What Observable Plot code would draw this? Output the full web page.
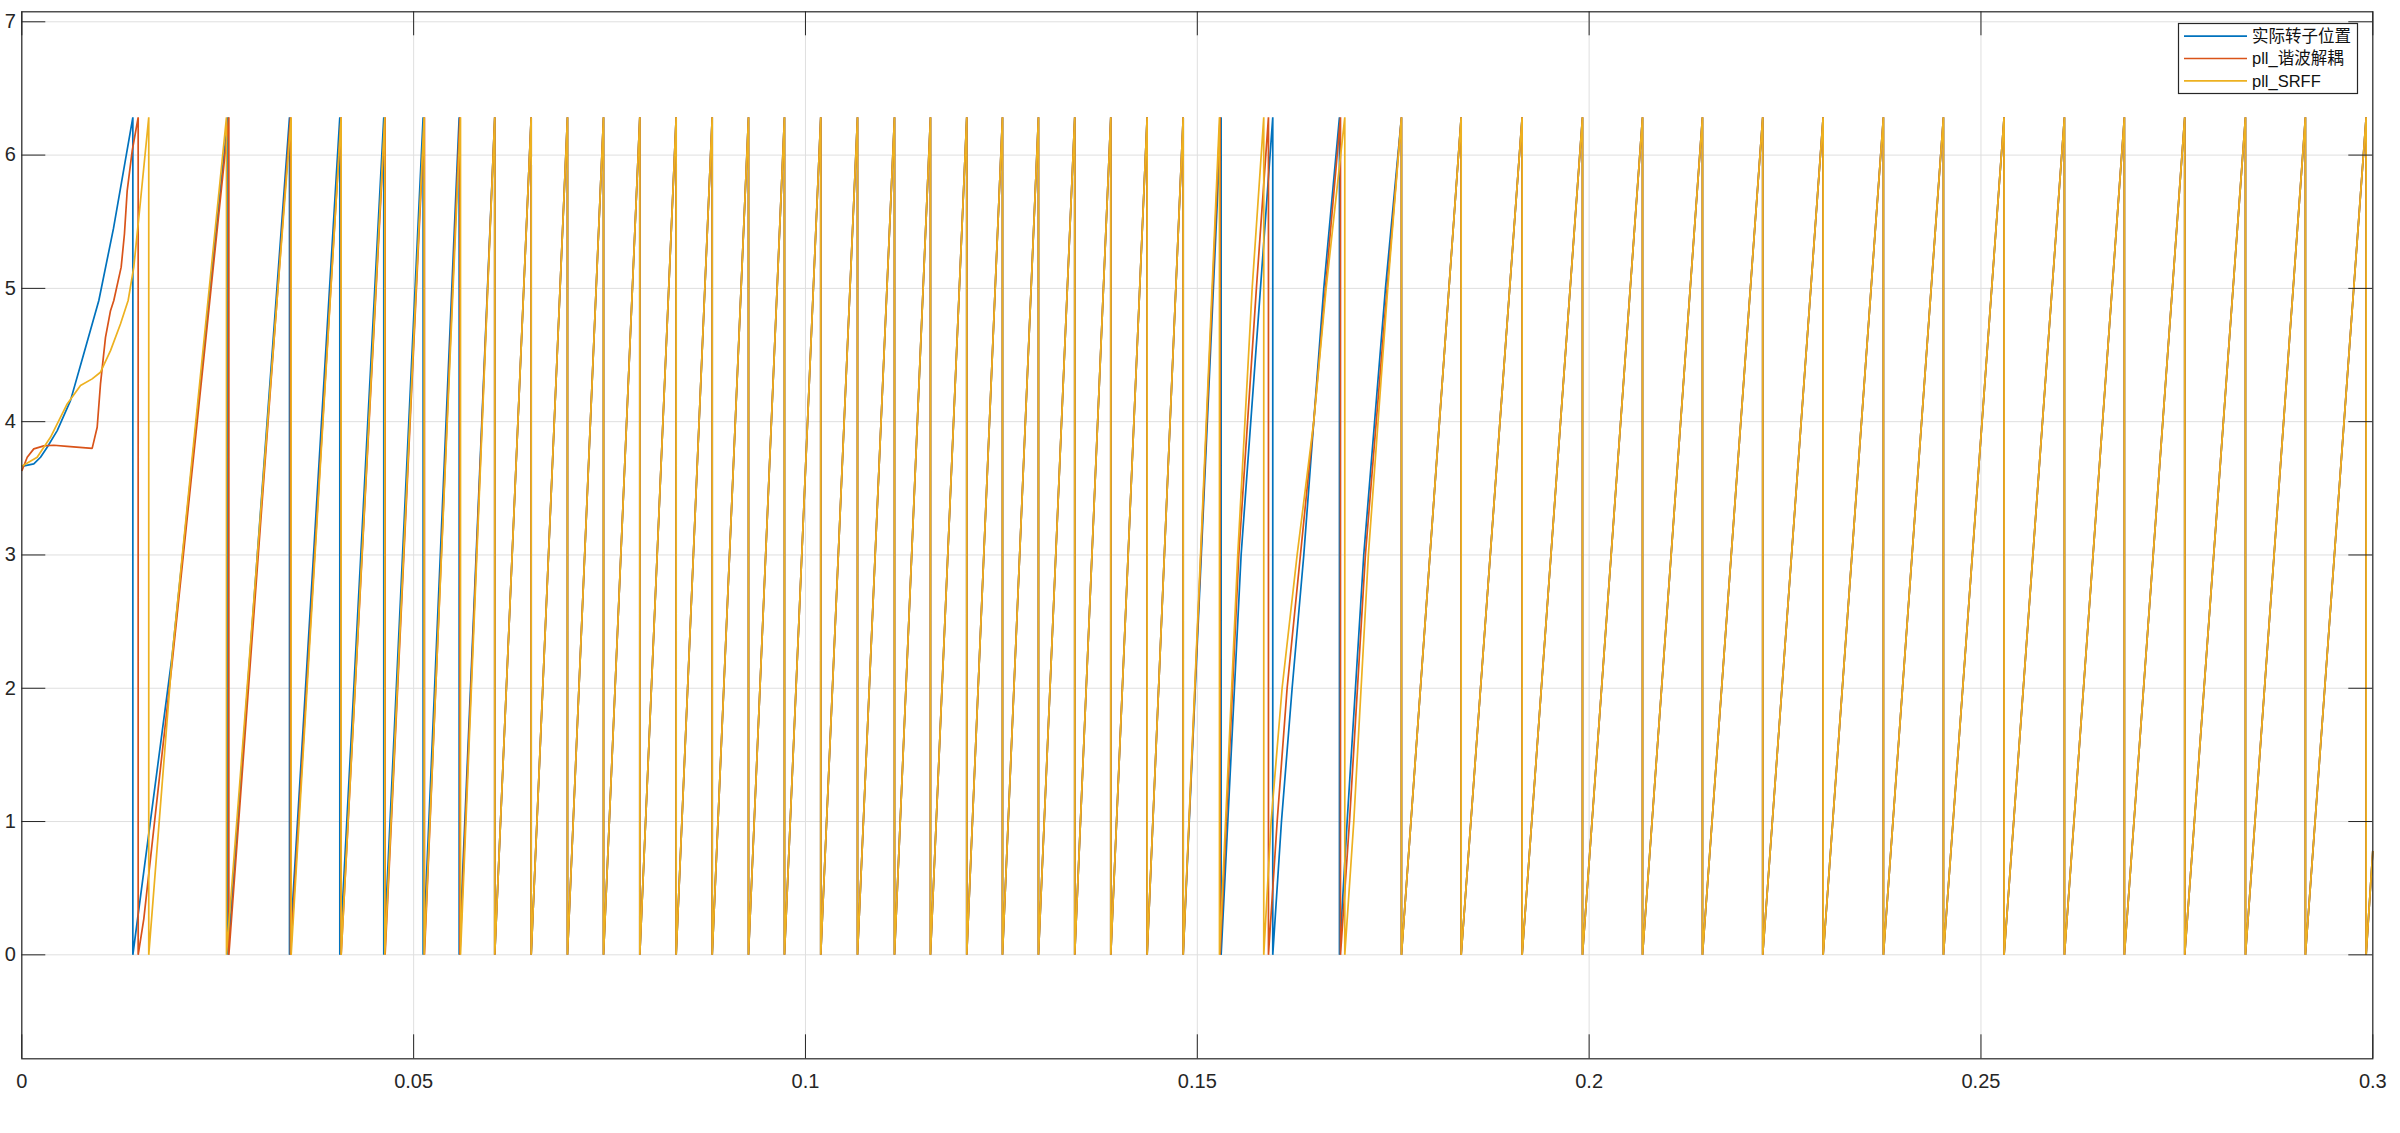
<!DOCTYPE html>
<html><head><meta charset="utf-8">
<script src="https://cdn.jsdelivr.net/npm/d3@7"></script>
<script src="https://cdn.jsdelivr.net/npm/@observablehq/plot@0.6"></script>
<style>
html,body{margin:0;padding:0;background:#fff;}
#chart{position:relative;width:2400px;height:1133px;}
</style></head><body><div id="chart"></div>
<script>
// ---- data ----
const PEAK = 6.2832; // wrap value (2π)
const seriesNames = ["实际转子位置", "pll_谐波解耦", "pll_SRFF"];
const seriesColors = ["#0072BD", "#D95319", "#EDB120"];

const xTicks = [0, 0.05, 0.1, 0.15, 0.2, 0.25, 0.3];
const xTickLabels = ["0", "0.05", "0.1", "0.15", "0.2", "0.25", "0.3"];
const yTicks = [0, 1, 2, 3, 4, 5, 6, 7];
const yTickLabels = ["0", "1", "2", "3", "4", "5", "6", "7"];

// wrap instants (value drops from 2π to 0) shared by all three series
const commonWrapsMid = [0.06035, 0.06500, 0.06963, 0.07423, 0.07886, 0.08350, 0.08810, 0.09273, 0.09732, 0.10195,
  0.10664, 0.11136, 0.11595, 0.12058, 0.12514, 0.12973, 0.13436, 0.13896, 0.14360, 0.14820];
const commonWrapsLate = [0.17605, 0.18367, 0.19145, 0.19915, 0.20681, 0.21446, 0.22215, 0.22986, 0.23755, 0.24521,
  0.25295, 0.26065, 0.26830, 0.27600, 0.28375, 0.29140, 0.29915];

// series-specific wrap instants
const blueWrapsEarly = [0.01417, 0.02630, 0.03416, 0.04058, 0.04619, 0.05121, 0.05581];
const blueWrapsDist = [0.15304, 0.15963, 0.16814];
const redWrapsEarly = [0.01485, 0.02642, 0.03428, 0.04075, 0.04636, 0.05138, 0.05590];
const redWrapsDist = [0.15291, 0.15908, 0.16827];
const yellowWrapsEarly = [0.01620, 0.02612, 0.03437, 0.04075, 0.04632, 0.05134, 0.05598];
const yellowWrapsDist = [0.15283, 0.15848, 0.16882];

// intermediate points [t, value] where the ramps are curved / start-up transient
const blueCurve = [[0, 3.665], [0.00153, 3.683], [0.00239, 3.733], [0.00324, 3.808], [0.00452, 3.933], [0.00621, 4.158],
  [0.00791, 4.509], [0.00983, 4.909], [0.0117, 5.45], [0.0192, 2.25],
  [0.15559, 3], [0.15806, 5], [0.16074, 1], [0.16210, 2], [0.16359, 3], [0.16486, 4], [0.16614, 5],
  [0.16912, 1], [0.17124, 3], [0.17401, 5], [0.3, 0.78]];
const redCurve = [[0, 3.63], [0.00069, 3.733], [0.00153, 3.796], [0.00281, 3.818], [0.00408, 3.823], [0.00579, 3.815],
  [0.00898, 3.80], [0.00962, 3.958], [0.01004, 4.283], [0.01068, 4.633], [0.01132, 4.833], [0.01174, 4.909],
  [0.01268, 5.159], [0.0131, 5.41], [0.01345, 5.734], [0.01409, 6.034], [0.01557, 0.27], [0.0192, 2.2],
  [0.15529, 3], [0.15754, 5], [0.16019, 1], [0.16146, 2], [0.16316, 3], [0.16486, 4], [0.16635, 5],
  [0.16942, 1], [0.17145, 3], [0.17422, 5], [0.3, 0.78]];
const yellowCurve = [[0, 3.665], [0.00196, 3.733], [0.00366, 3.883], [0.00579, 4.133], [0.00749, 4.271], [0.00898, 4.321],
  [0.01004, 4.371], [0.01132, 4.533], [0.01259, 4.733], [0.01357, 4.909], [0.01429, 5.159], [0.01515, 5.659],
  [0.0192, 2.25], [0.15516, 3], [0.15700, 5], [0.15942, 1], [0.16082, 2], [0.16274, 3], [0.16486, 4], [0.16644, 5],
  [0.16997, 1], [0.17183, 3], [0.17430, 5], [0.3, 0.78]];

// ---- build line vertices ----
function buildSeries(name, wraps, curve) {
  const pts = curve.map(([t, v]) => ({t, v, o: 1, name}));
  for (const t of wraps) {
    pts.push({t, v: PEAK, o: 0, name});
    pts.push({t, v: 0, o: 2, name});
  }
  pts.sort((a, b) => a.t - b.t || a.o - b.o);
  return pts;
}
const blue = buildSeries(seriesNames[0], [...blueWrapsEarly, ...commonWrapsMid, ...blueWrapsDist, ...commonWrapsLate], blueCurve);
const red = buildSeries(seriesNames[1], [...redWrapsEarly, ...commonWrapsMid, ...redWrapsDist, ...commonWrapsLate], redCurve);
const yellow = buildSeries(seriesNames[2], [...yellowWrapsEarly, ...commonWrapsMid, ...yellowWrapsDist, ...commonWrapsLate], yellowCurve);

const W = 2400, H = 1133;
const mL = 21.3, mR = 27.7, mT = 11.3, mB = 74.7;
const frameW = W - mL - mR, frameH = H - mT - mB;
const tickLen = 24;
const axisColor = "#262626";
const xLab = new Map(xTicks.map((d, i) => [d, xTickLabels[i]]));
const yLab = new Map(yTicks.map((d, i) => [d, yTickLabels[i]]));

const lineOpts = (color) => ({x: "t", y: "v", stroke: color, strokeWidth: 1.7, strokeLinejoin: "miter", strokeLinecap: "butt"});

const plot = Plot.plot({
  width: W, height: H,
  marginLeft: mL, marginRight: mR, marginTop: mT, marginBottom: mB,
  style: {fontFamily: "'Liberation Sans', Arial, sans-serif", background: "#fff", color: axisColor, overflow: "visible"},
  x: {domain: [0, 0.3], label: null},
  y: {domain: [-0.78, 7.075], label: null},
  marks: [
    Plot.gridX(xTicks, {stroke: "#dfdfdf", strokeOpacity: 1, strokeWidth: 1}),
    Plot.gridY(yTicks, {stroke: "#dfdfdf", strokeOpacity: 1, strokeWidth: 1}),
    Plot.line(blue, lineOpts(seriesColors[0])),
    Plot.line(red, lineOpts(seriesColors[1])),
    Plot.line(yellow, lineOpts(seriesColors[2])),
    Plot.ruleX(xTicks, {stroke: axisColor, insetTop: frameH - tickLen}),
    Plot.ruleX(xTicks, {stroke: axisColor, insetBottom: frameH - tickLen}),
    Plot.ruleY(yTicks, {stroke: axisColor, insetRight: frameW - tickLen}),
    Plot.ruleY(yTicks, {stroke: axisColor, insetLeft: frameW - tickLen}),
    Plot.frame({stroke: axisColor, strokeWidth: 1.2}),
    Plot.axisX(xTicks, {tickSize: 0, tickPadding: 15, fontSize: 20, tickFormat: d => xLab.get(d)}),
    Plot.axisY(yTicks, {tickSize: 0, tickPadding: 6, fontSize: 20, tickFormat: d => yLab.get(d)})
  ]
});
document.getElementById("chart").appendChild(plot);

// ---- legend (inside the axes, top-right) ----
const svg = d3.select(plot);
const lg = svg.append("g").attr("text-anchor", "start");
const lx = 2178.5, ly = 23.5, lw = 179, lh = 70;
lg.append("rect").attr("x", lx).attr("y", ly).attr("width", lw).attr("height", lh)
  .attr("fill", "#fff").attr("stroke", axisColor).attr("stroke-width", 1.2);
seriesNames.forEach((name, i) => {
  const yy = 36.2 + i * 22.3;
  lg.append("line").attr("x1", 2184).attr("x2", 2247).attr("y1", yy).attr("y2", yy)
    .attr("stroke", seriesColors[i]).attr("stroke-width", 1.7);
  lg.append("text").attr("x", 2252).attr("y", yy).attr("dy", "0.35em")
    .attr("text-anchor", "start")
    .attr("font-size", 16.5).attr("fill", "#111")
    .attr("font-family", "'Liberation Sans', 'Noto Sans CJK SC', sans-serif")
    .text(name);
});
</script></body></html>
